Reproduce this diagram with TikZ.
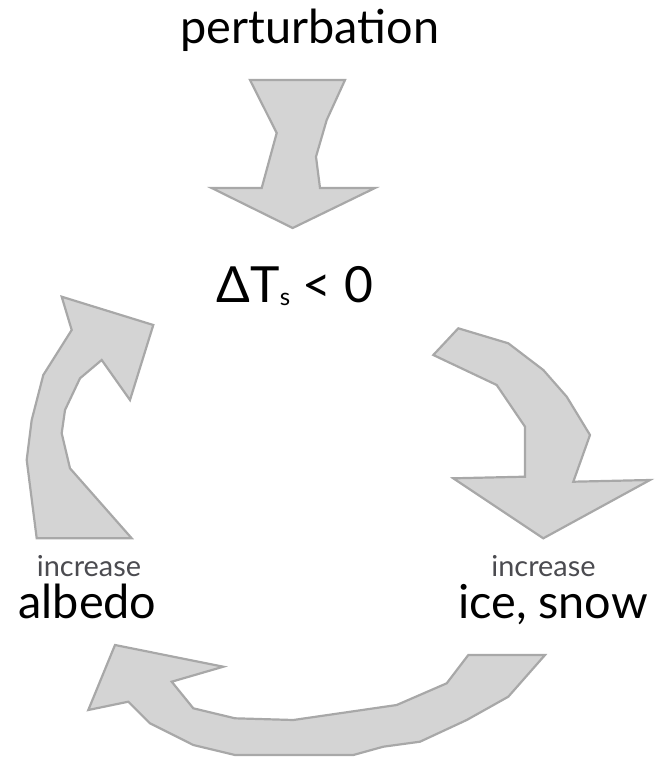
\documentclass[tikz,border=0pt]{standalone}
\usepackage{fontspec}
\setmainfont{Lato}
\definecolor{arrowfill}{RGB}{212,212,212}
\definecolor{arrowline}{RGB}{168,168,168}
\definecolor{incgray}{RGB}{75,75,80}
\begin{document}
\begin{tikzpicture}[x=1bp,y=-1bp,
  blockarrow/.style={fill=arrowfill,draw=arrowline,line width=2.2bp,line join=miter},
  bigtext/.style={inner sep=0,anchor=base,font=\fontsize{47}{47}\selectfont},
  smalltext/.style={inner sep=0,anchor=base,text=incgray,font=\fontsize{29}{29}\selectfont}]
\useasboundingbox (0,0) rectangle (660,758);
% top arrow
\draw[blockarrow] (250,80) -- (345,80) -- (326.7,120) -- (316,156.7) -- (320,188) -- (375,188) -- (292.7,228) -- (211.7,188) -- (261.7,188) -- (276.7,133) -- cycle;
% left arrow
\draw[blockarrow] (36.7,538.3) -- (131.7,538.3) -- (70,468.3) -- (61.7,433.3) -- (65,410) -- (80,378.3) -- (101.7,360) -- (130,400) -- (153.3,325) -- (61.7,296.7) -- (71.7,330) -- (43.3,375) -- (31.7,420) -- (26.7,460) -- cycle;
% right arrow
\draw[blockarrow] (433.3,355) -- (458.3,328.3) -- (508.3,343.3) -- (543.3,370) -- (566.7,396.7) -- (590,435) -- (573.3,481.7) -- (650,480) -- (543.3,538.3) -- (453.3,478.3) -- (525,476.7) -- (525,426.7) -- (496.7,385) -- cycle;
% bottom arrow
\draw[blockarrow] (88.3,710) -- (115,645) -- (223.3,666.7) -- (171.7,681.7) -- (193.3,708.3) -- (235,718.3) -- (293.3,720) -- (396.7,705) -- (446.7,683.3) -- (468.3,655) -- (545,655) -- (508.3,696.7) -- (466.7,720) -- (420,741.7) -- (383.3,746.7) -- (353.3,755) -- (235,755) -- (193.3,745) -- (150,723.3) -- (128.3,701.7) -- cycle;
% texts
\node[bigtext] (pert) at (310,44) {perturbation};
\node[bigtext,font=\fontsize{50}{50}\selectfont] (dts) at (295,302) {ΔT\raisebox{-3bp}{\fontsize{24}{24}\selectfont s} < 0};
\node[smalltext] (incl) at (89,576) {increase};
\node[bigtext] (alb) at (87.5,618) {albedo};
\node[smalltext] (incr) at (543.5,576) {increase};
\node[bigtext] (ice) at (553,618) {ice, snow};
\end{tikzpicture}
\end{document}
